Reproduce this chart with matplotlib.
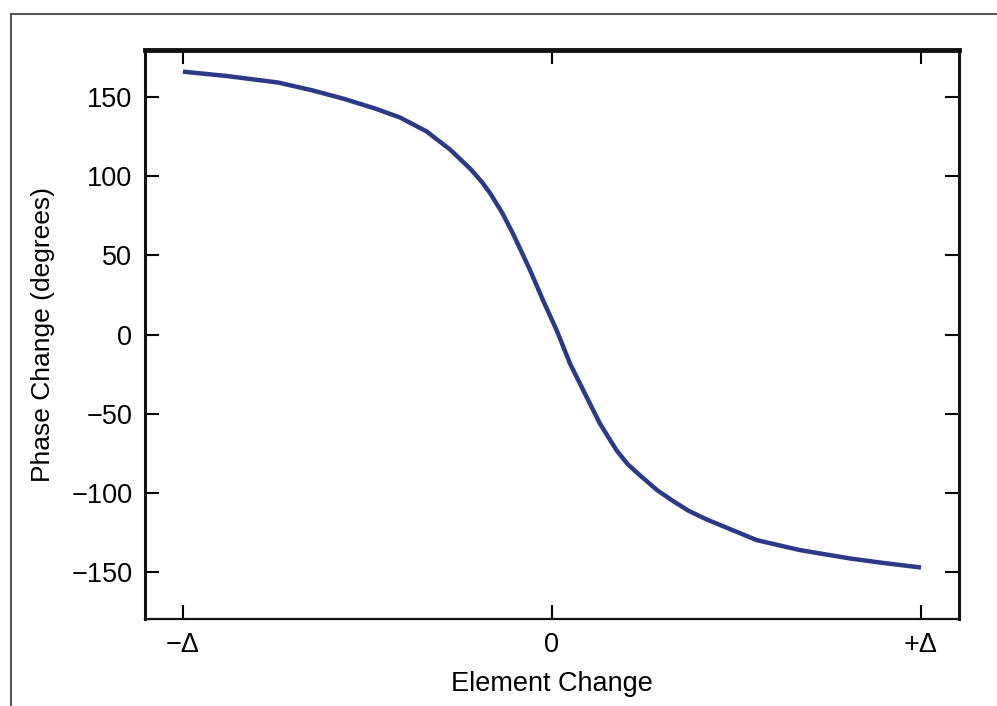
import matplotlib
matplotlib.use("Agg")
import matplotlib.pyplot as plt
from matplotlib.lines import Line2D

# values (x in units of delta)
element_change = [-1.0, -0.88, -0.742, -0.65, -0.561, -0.48, -0.412, -0.34, -0.276,
                  -0.22, -0.19, -0.168, -0.135, -0.105, -0.06, -0.024, 0.013, 0.049,
                  0.085, 0.13, 0.175, 0.205, 0.238, 0.285, 0.329, 0.37, 0.419, 0.555,
                  0.672, 0.808, 0.90, 1.0]
phase_change = [166.3, 163.5, 159.4, 154.5, 148.9, 143.0, 137.3, 128.5, 117.0,
                104.5, 96.5, 89.5, 77.0, 63.5, 41.0, 21.5, 2.5, -18.5,
                -35.4, -56.4, -73.3, -82.0, -89.0, -98.5, -105.5, -111.5, -117.0, -130.1,
                -136.4, -141.7, -144.6, -147.4]

xticks = [-1, 0, 1]
xticklabels = ["\u2212\u0394", "0", "+\u0394"]
yticks = [-150, -100, -50, 0, 50, 100, 150]

plt.rcParams['font.family'] = ['Liberation Sans', 'DejaVu Sans']

fig = plt.figure(figsize=(9.97, 7.06), dpi=100)
ax = fig.add_axes([0.1454, 0.1232, 0.8165, 0.806])

ax.plot(element_change, phase_change, color='#2a3a88', lw=3.2,
        solid_capstyle='butt', solid_joinstyle='round')

ax.set_xlim(-1.103, 1.103)
ax.set_ylim(-180, 180)
ax.set_xticks(xticks)
ax.set_xticklabels(xticklabels)
ax.set_yticks(yticks)
ax.set_yticklabels([str(v).replace('-', '\u2212') for v in yticks])
ax.tick_params(direction='in', length=10, width=1.5, labelsize=19.5,
               top=True, right=True, pad=9)
ax.set_xlabel("Element Change", fontsize=19.5, labelpad=10)
ax.set_ylabel("Phase Change (degrees)", fontsize=19, labelpad=12)

for side, w in [('top', 3.5), ('left', 2.2), ('right', 2.2), ('bottom', 1.6)]:
    ax.spines[side].set_linewidth(w)
    ax.spines[side].set_color('#111111')

# outer frame (top and left edges only, as in the cropped reference)
fig.add_artist(Line2D([11/997, 1.0], [1-14/706, 1-14/706], color='#555555', lw=1.5))
fig.add_artist(Line2D([11/997, 11/997], [0.0, 1-14/706], color='#555555', lw=1.5))

fig.savefig("out.png", dpi=100)
